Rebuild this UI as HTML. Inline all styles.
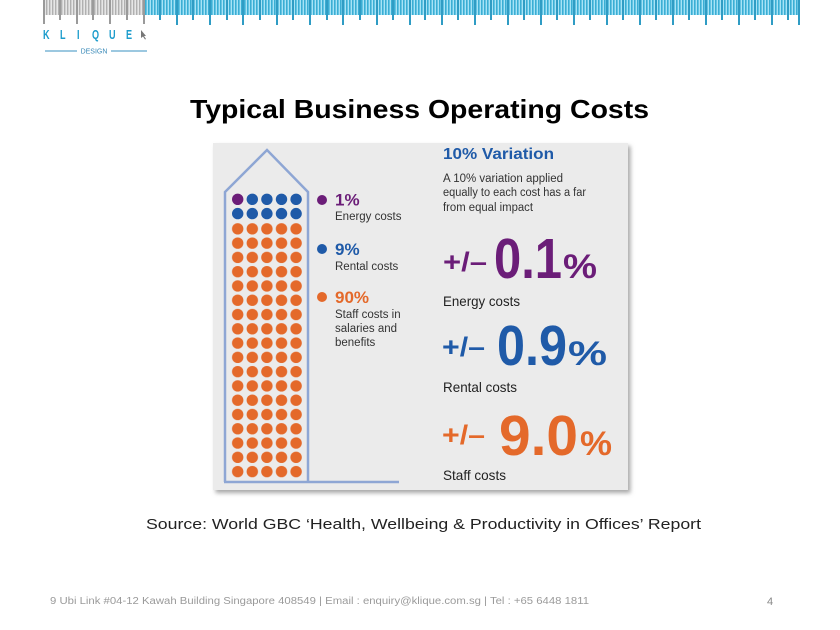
<!DOCTYPE html>
<html><head><meta charset="utf-8"><style>
html,body{margin:0;padding:0;background:#fff;}
svg{display:block;}
text{font-family:"Liberation Sans","DejaVu Sans",sans-serif;}
</style></head><body>
<svg width="840" height="630" viewBox="0 0 840 630" xmlns="http://www.w3.org/2000/svg">
<defs>
<pattern id="gl" x="43" y="0" width="3" height="15" patternUnits="userSpaceOnUse">
<rect width="3" height="15" fill="#e6e6e6"/><rect x="0" width="1.4" height="15" fill="#b0b0b0"/>
</pattern>
<pattern id="bl" x="145" y="0" width="3" height="15" patternUnits="userSpaceOnUse">
<rect width="3" height="15" fill="#a6e3f6"/><rect x="0" width="1.6" height="15" fill="#3aaed4"/>
</pattern>
<pattern id="dots" x="230.4" y="221.7" width="14.6" height="14.28" patternUnits="userSpaceOnUse">
<circle cx="7.3" cy="7.14" r="5.7" fill="#e4692a"/>
</pattern>
<filter id="sh" x="-5%" y="-5%" width="115%" height="115%">
<feDropShadow dx="2.5" dy="3" stdDeviation="2.2" flood-color="#8a8a8a" flood-opacity="0.75"/>
</filter>
</defs>

<!-- Ruler -->
<rect x="43" y="0" width="102" height="15" fill="url(#gl)"/>
<rect x="145" y="0" width="655" height="15" fill="url(#bl)"/>
<g stroke-width="2">
<line x1="44" y1="0" x2="44" y2="24" stroke="#9a9a9a"/>
<line x1="60" y1="0" x2="60" y2="20" stroke="#9a9a9a"/>
<line x1="77" y1="0" x2="77" y2="24" stroke="#9a9a9a"/>
<line x1="93" y1="0" x2="93" y2="20" stroke="#9a9a9a"/>
<line x1="110" y1="0" x2="110" y2="24" stroke="#9a9a9a"/>
<line x1="127" y1="0" x2="127" y2="20" stroke="#9a9a9a"/>
<line x1="144" y1="0" x2="144" y2="24" stroke="#9a9a9a"/>
</g>
<g stroke="#2f9cc4" stroke-width="2">
<line x1="160" y1="0" x2="160" y2="20"/><line x1="177" y1="0" x2="177" y2="25"/>
<line x1="193" y1="0" x2="193" y2="20"/><line x1="210" y1="0" x2="210" y2="25"/>
<line x1="227" y1="0" x2="227" y2="20"/><line x1="243" y1="0" x2="243" y2="25"/>
<line x1="260" y1="0" x2="260" y2="20"/><line x1="277" y1="0" x2="277" y2="25"/>
<line x1="293" y1="0" x2="293" y2="20"/><line x1="310" y1="0" x2="310" y2="25"/>
<line x1="327" y1="0" x2="327" y2="20"/><line x1="343" y1="0" x2="343" y2="25"/>
<line x1="360" y1="0" x2="360" y2="20"/><line x1="377" y1="0" x2="377" y2="25"/>
<line x1="393" y1="0" x2="393" y2="20"/><line x1="410" y1="0" x2="410" y2="25"/>
<line x1="425" y1="0" x2="425" y2="20"/><line x1="442" y1="0" x2="442" y2="25"/>
<line x1="458" y1="0" x2="458" y2="20"/><line x1="475" y1="0" x2="475" y2="25"/>
<line x1="491" y1="0" x2="491" y2="20"/><line x1="508" y1="0" x2="508" y2="25"/>
<line x1="524" y1="0" x2="524" y2="20"/><line x1="541" y1="0" x2="541" y2="25"/>
<line x1="557" y1="0" x2="557" y2="20"/><line x1="574" y1="0" x2="574" y2="25"/>
<line x1="590" y1="0" x2="590" y2="20"/><line x1="607" y1="0" x2="607" y2="25"/>
<line x1="623" y1="0" x2="623" y2="20"/><line x1="640" y1="0" x2="640" y2="25"/>
<line x1="656" y1="0" x2="656" y2="20"/><line x1="673" y1="0" x2="673" y2="25"/>
<line x1="689" y1="0" x2="689" y2="20"/><line x1="706" y1="0" x2="706" y2="25"/>
<line x1="722" y1="0" x2="722" y2="20"/><line x1="739" y1="0" x2="739" y2="25"/>
<line x1="755" y1="0" x2="755" y2="20"/><line x1="772" y1="0" x2="772" y2="25"/>
<line x1="788" y1="0" x2="788" y2="20"/><line x1="799" y1="0" x2="799" y2="25"/>
</g>

<!-- Logo -->
<g fill="#1c9ccc" font-size="13" font-weight="bold">
<text x="43" y="39" transform="translate(43 0) scale(0.7 1) translate(-43 0)">K</text>
<text x="60" y="39" transform="translate(60 0) scale(0.7 1) translate(-60 0)">L</text>
<text x="77" y="39" transform="translate(77 0) scale(0.7 1) translate(-77 0)">I</text>
<text x="92" y="39" transform="translate(92 0) scale(0.7 1) translate(-92 0)">Q</text>
<text x="109" y="39" transform="translate(109 0) scale(0.7 1) translate(-109 0)">U</text>
<text x="126" y="39" transform="translate(126 0) scale(0.7 1) translate(-126 0)">E</text>
</g>
<path d="M141,30 L146,36 L144,36 L146,39 L145,39.5 L143,36.5 L141,38 Z" fill="#777"/>
<line x1="45" y1="51" x2="77" y2="51" stroke="#3a90c0" stroke-width="1"/>
<line x1="111" y1="51" x2="147" y2="51" stroke="#3a90c0" stroke-width="1"/>
<text x="94" y="53.5" font-size="7" fill="#3a8ab8" text-anchor="middle">DESIGN</text>

<!-- Title -->
<text x="190" y="118" font-size="26" font-weight="bold" fill="#000" textLength="459" lengthAdjust="spacingAndGlyphs">Typical Business Operating Costs</text>

<!-- Infographic box -->
<rect x="213" y="143" width="415" height="347" fill="#ebebeb" filter="url(#sh)"/>

<!-- Building -->
<path d="M225,482 L225,192 L267,150 L308,192 L308,482" fill="none" stroke="#8ea6d4" stroke-width="2.5"/>
<line x1="224" y1="482" x2="399" y2="482" stroke="#8ea6d4" stroke-width="2.5"/>

<!-- dots -->
<circle cx="237.7" cy="199.3" r="5.7" fill="#6b1d78"/>
<circle cx="252.3" cy="199.3" r="5.7" fill="#1f5aa8"/>
<circle cx="266.9" cy="199.3" r="5.7" fill="#1f5aa8"/>
<circle cx="281.5" cy="199.3" r="5.7" fill="#1f5aa8"/>
<circle cx="296.1" cy="199.3" r="5.7" fill="#1f5aa8"/>
<circle cx="237.7" cy="213.6" r="5.7" fill="#1f5aa8"/>
<circle cx="252.3" cy="213.6" r="5.7" fill="#1f5aa8"/>
<circle cx="266.9" cy="213.6" r="5.7" fill="#1f5aa8"/>
<circle cx="281.5" cy="213.6" r="5.7" fill="#1f5aa8"/>
<circle cx="296.1" cy="213.6" r="5.7" fill="#1f5aa8"/>
<rect x="230.4" y="221.7" width="73" height="257.04" fill="url(#dots)"/>

<!-- Legend -->
<circle cx="322" cy="200" r="5" fill="#6b1d78"/>
<text x="335" y="205.5" font-size="17" font-weight="bold" fill="#6b1d78">1%</text>
<text x="335" y="220" font-size="11.5" fill="#333">Energy costs</text>
<circle cx="322" cy="249" r="5" fill="#1f5aa8"/>
<text x="335" y="255" font-size="17" font-weight="bold" fill="#1f5aa8">9%</text>
<text x="335" y="270" font-size="11.5" fill="#333">Rental costs</text>
<circle cx="322" cy="297" r="5" fill="#e4692a"/>
<text x="335" y="303" font-size="17" font-weight="bold" fill="#e4692a">90%</text>
<text x="335" y="318" font-size="11.5" fill="#333">Staff costs in</text>
<text x="335" y="332" font-size="11.5" fill="#333">salaries and</text>
<text x="335" y="346" font-size="11.5" fill="#333">benefits</text>

<!-- Right side -->
<text x="443" y="159" font-size="16" font-weight="bold" fill="#1f5aa8" textLength="111" lengthAdjust="spacingAndGlyphs">10% Variation</text>
<text x="443" y="182" font-size="11.5" fill="#333" textLength="120" lengthAdjust="spacingAndGlyphs">A 10% variation applied</text>
<text x="443" y="196" font-size="11.5" fill="#333" textLength="143" lengthAdjust="spacingAndGlyphs">equally to each cost has a far</text>
<text x="443" y="211" font-size="11.5" fill="#333" textLength="90" lengthAdjust="spacingAndGlyphs">from equal impact</text>

<text x="443" y="271" font-size="27" font-weight="bold" fill="#6b1d78" textLength="44" lengthAdjust="spacingAndGlyphs">+/–</text>
<text x="494" y="278" font-size="57" font-weight="bold" fill="#6b1d78" textLength="68" lengthAdjust="spacingAndGlyphs">0.1</text>
<text x="563" y="278" font-size="34" font-weight="bold" fill="#6b1d78" textLength="34" lengthAdjust="spacingAndGlyphs">%</text>
<text x="443" y="306" font-size="14" fill="#222" textLength="77" lengthAdjust="spacingAndGlyphs">Energy costs</text>

<text x="442" y="356" font-size="27" font-weight="bold" fill="#1f5aa8" textLength="43" lengthAdjust="spacingAndGlyphs">+/–</text>
<text x="497" y="365" font-size="57" font-weight="bold" fill="#1f5aa8" textLength="70" lengthAdjust="spacingAndGlyphs">0.9</text>
<text x="568" y="365" font-size="34" font-weight="bold" fill="#1f5aa8" textLength="39" lengthAdjust="spacingAndGlyphs">%</text>
<text x="443" y="392" font-size="14" fill="#222" textLength="74" lengthAdjust="spacingAndGlyphs">Rental costs</text>

<text x="442" y="444" font-size="27" font-weight="bold" fill="#e4692a" textLength="43" lengthAdjust="spacingAndGlyphs">+/–</text>
<text x="499" y="455" font-size="57" font-weight="bold" fill="#e4692a" textLength="79" lengthAdjust="spacingAndGlyphs">9.0</text>
<text x="580" y="455" font-size="34" font-weight="bold" fill="#e4692a" textLength="32" lengthAdjust="spacingAndGlyphs">%</text>
<text x="443" y="480" font-size="14" fill="#222" textLength="63" lengthAdjust="spacingAndGlyphs">Staff costs</text>

<!-- Source -->
<text x="146" y="529" font-size="15" fill="#222" textLength="555" lengthAdjust="spacingAndGlyphs">Source: World GBC ‘Health, Wellbeing &amp; Productivity in Offices’ Report</text>

<!-- Footer -->
<text x="50" y="604" font-size="10" fill="#9a9a9a" textLength="539" lengthAdjust="spacingAndGlyphs">9 Ubi Link #04-12 Kawah Building Singapore 408549  |  Email : enquiry@klique.com.sg  |  Tel : +65 6448 1811</text>
<text x="767" y="605" font-size="11" fill="#888">4</text>
</svg>
</body></html>
